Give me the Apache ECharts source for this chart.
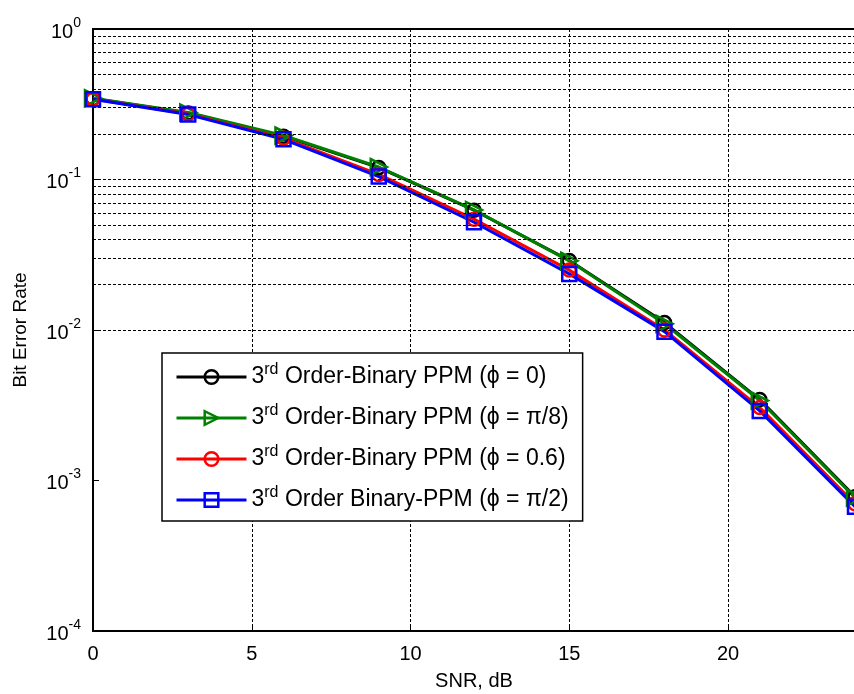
<!DOCTYPE html>
<html>
<head>
<meta charset="utf-8">
<script src="https://cdn.jsdelivr.net/npm/echarts@6/dist/echarts.min.js"></script>
<style>
html,body{margin:0;padding:0;background:#fff;}
#chart{width:854px;height:694px;}
</style>
</head>
<body>
<div id="chart"></div>
<script>
// ---- data ----
const snr = [0, 3, 6, 9, 12, 15, 18, 21, 24];
const berPhi0   = [0.345, 0.277, 0.194, 0.120, 0.0625, 0.0290, 0.0112, 0.00345, 0.00078];
const berPhiPi8 = [0.347, 0.279, 0.196, 0.121, 0.0628, 0.0288, 0.0110, 0.00340, 0.00077];
const berPhi06  = [0.342, 0.272, 0.188, 0.108, 0.0545, 0.0250, 0.0100, 0.00305, 0.00070];
const berPhiPi2 = [0.341, 0.270, 0.185, 0.1045, 0.052, 0.0236, 0.00975, 0.00290, 0.00067];
const seriesNames = [
  '3{s|rd} Order-Binary PPM (\u03d5 = 0)',
  '3{s|rd} Order-Binary PPM (\u03d5 = \u03c0/8)',
  '3{s|rd} Order-Binary PPM (\u03d5 = 0.6)',
  '3{s|rd} Order Binary-PPM (\u03d5 = \u03c0/2)'
];
const xTicks = [0, 5, 10, 15, 20];
const yExponents = [-4, -3, -2, -1, 0];

// minor gridline values (1..9 x 10^k)
const gridVals = [];
for (let k = yExponents[0]; k < yExponents[yExponents.length - 1]; k++) {
  for (let m = 1; m <= 9; m++) {
    if (k === yExponents[0] && m === 1) continue;
    gridVals.push(m * Math.pow(10, k));
  }
}

const FONT = '"Liberation Sans", Arial, Helvetica, sans-serif';
const chart = echarts.init(document.getElementById('chart'), null, {renderer: 'canvas'});

function mk(name, data, color, symbol, size, rotate) {
  return {
    name: name,
    type: 'line',
    data: snr.map((x, i) => [x, data[i]]),
    symbol: symbol,
    symbolSize: size,
    symbolRotate: rotate || 0,
    showAllSymbol: true,
    lineStyle: {color: color, width: 3},
    itemStyle: {color: 'rgba(255,255,255,0)', borderColor: color, borderWidth: 2.5},
    emphasis: {disabled: true},
    animation: false,
    z: 3,
    clip: false
  };
}

const option = {
  animation: false,
  backgroundColor: '#fff',
  grid: {
    left: 93, top: 29, right: -1, bottom: 63,
    outerBoundsMode: 'none',
    containLabel: false,
    show: true, borderColor: '#000', borderWidth: 2, backgroundColor: '#fff'
  },
  xAxis: {
    type: 'value', min: 0, max: 24, interval: 5,
    name: 'SNR, dB', nameLocation: 'middle', nameGap: 40,
    nameTextStyle: {fontFamily: FONT, fontSize: 20, color: '#000'},
    axisLine: {show: true, lineStyle: {color: '#000', width: 2}},
    axisTick: {show: true, inside: true, length: 6, lineStyle: {color: '#000', width: 1}},
    axisLabel: {
      fontFamily: FONT, fontSize: 20, color: '#000', margin: 13,
      formatter: v => (xTicks.indexOf(v) >= 0 ? String(v) : '')
    },
    splitLine: {show: true, lineStyle: {color: '#000', type: [3, 2], width: 1}}
  },
  yAxis: {
    type: 'log', logBase: 10, min: 1e-4, max: 1,
    name: 'Bit Error Rate', nameLocation: 'middle', nameGap: 63, nameRotate: 90,
    nameTextStyle: {fontFamily: FONT, fontSize: 19, color: '#000'},
    axisLine: {show: true, lineStyle: {color: '#000', width: 2}},
    axisTick: {show: true, inside: true, length: 6, lineStyle: {color: '#000', width: 1}},
    axisLabel: {
      margin: 12, color: '#000',
      formatter: v => {
        const e = Math.round(Math.log10(v));
        return yExponents.indexOf(e) >= 0 ? '{b|10}{s|' + e + '}' : '';
      },
      rich: {
        b: {fontFamily: FONT, fontSize: 20, color: '#000', verticalAlign: 'bottom'},
        s: {fontFamily: FONT, fontSize: 14, color: '#000', verticalAlign: 'bottom', padding: [0, 0, 12, 0]}
      }
    },
    splitLine: {show: false},
    minorTick: {show: false}
  },
  legend: {
    show: true,
    orient: 'vertical',
    left: 162, top: 353,
    padding: [9, 14, 9, 13],
    itemGap: 14,
    itemWidth: 70,
    itemHeight: 17,
    backgroundColor: '#fff',
    borderColor: '#000',
    borderWidth: 1.5,
    borderRadius: 0,
    selectedMode: false,
    data: seriesNames,
    lineStyle: {width: 3},
    itemStyle: {borderWidth: 2.5},
    textStyle: {
      fontFamily: FONT, fontSize: 23, color: '#000', lineHeight: 24,
      rich: {
        s: {fontFamily: FONT, fontSize: 16, color: '#000', verticalAlign: 'bottom', padding: [0, 0, 11, 0]}
      }
    }
  },
  series: [
    {
      name: 'grid', type: 'line', data: [], z: 1, silent: true,
      markLine: {
        silent: true, symbol: ['none', 'none'], animation: false,
        label: {show: false},
        lineStyle: {color: '#000', type: [3, 2], width: 1},
        data: gridVals.map(v => ({yAxis: v}))
      }
    },
    mk(seriesNames[0], berPhi0, '#000000', 'circle', 13),
    mk(seriesNames[1], berPhiPi8, '#008000', 'triangle', 16, -90),
    mk(seriesNames[2], berPhi06, '#ff0000', 'circle', 13),
    mk(seriesNames[3], berPhiPi2, '#0000ff', 'rect', 14)
  ]
};
chart.setOption(option);
</script>
</body>
</html>
